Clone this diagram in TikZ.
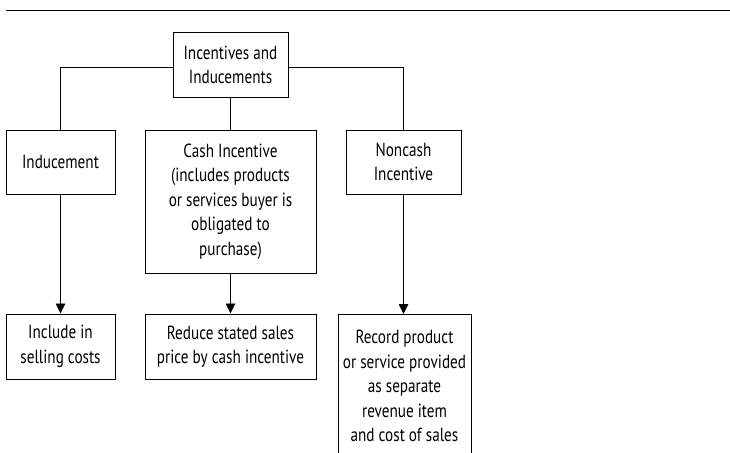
\documentclass[tikz,border=0pt]{standalone}
\usepackage{fontspec}
\setmainfont[FakeStretch=0.80]{PT Sans}
\usepackage{tikz}
\usetikzlibrary{arrows.meta,positioning}

\begin{document}
\begin{tikzpicture}[
  x=1pt, y=-1pt,
  every node/.style={font=\fontsize{19}{24.5}\selectfont},
  box/.style={rectangle, draw, line width=1pt, align=center, inner sep=0pt},
  arr/.style={-{Triangle[length=10pt, width=9.5pt]}, line width=0.9pt},
  link/.style={line width=0.9pt},
]
\useasboundingbox (0,0) rectangle (730,452);
\clip (0,0) rectangle (730,452);

% top rule
\coordinate (ruleL) at (6,10.5);
\coordinate (ruleR) at (730,10.5);
\draw[line width=1.4pt] (ruleL) -- (ruleR);

% root
\node[box, minimum width=115, minimum height=64] (root) at (230.5, 65) {Incentives and\\Inducements};

% second row
\node[box, minimum width=109, minimum height=64] (ind) at (60.5, 162) {Inducement};
\node[box, minimum width=171, minimum height=143] (cash) at (230.5, 201.5) {Cash Incentive\\(includes products\\or services buyer is\\obligated to\\purchase)};
\node[box, minimum width=115, minimum height=64] (noncash) at (403.5, 162) {Noncash\\Incentive};

% third row
\node[box, minimum width=109, minimum height=65] (incl) at (60.5, 346.5) {Include in\\selling costs};
\node[box, minimum width=171, minimum height=65] (reduce) at (230.5, 346.5) {Reduce stated sales\\price by cash incentive};
\node[box, minimum width=133, anchor=north] (record) at (404.5, 314) {\rule{0pt}{29pt}Record product\\or service provided\\as separate\\revenue item\\and cost of sales\\[40pt]\mbox{}};

% connectors
\draw[link] (root.west |- 0,67) -| (ind.north);
\draw[link] (root.east |- 0,67) -| (noncash.north);
\draw[link] (root) -- (cash);
\draw[arr] (ind) -- (incl);
\draw[arr] (cash) -- (reduce);
\draw[arr] (noncash) -- (noncash |- record.north);

\end{tikzpicture}
\end{document}
